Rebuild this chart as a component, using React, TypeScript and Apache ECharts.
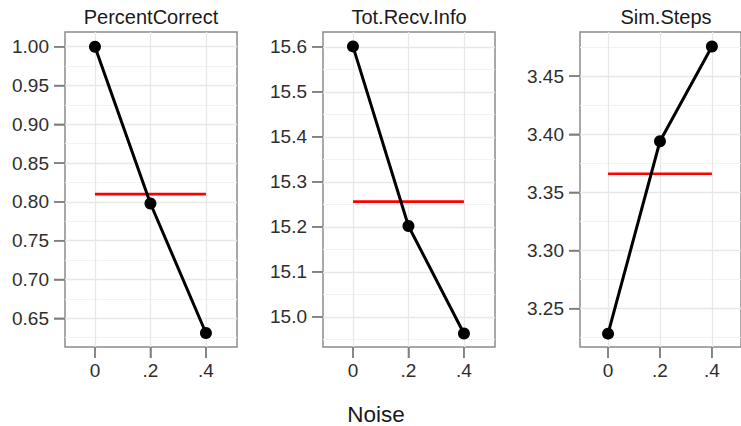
import { useEffect, useRef } from "react";
import * as echarts from "echarts";

// ---- data ----
const noise = [0, 0.2, 0.4];
const xTickLabels = ["0", ".2", ".4"];
const panelTitles = ["PercentCorrect", "Tot.Recv.Info", "Sim.Steps"];
const percentCorrect = [1.0, 0.798, 0.631];
const totRecvInfo = [15.601, 15.202, 14.963];
const simSteps = [3.2285, 3.394, 3.4755];
const meanLines = [0.81, 15.256, 3.366];

const yTicksPercent = [0.65, 0.7, 0.75, 0.8, 0.85, 0.9, 0.95, 1.0];
const yMinorPercent = [0.625, 0.675, 0.725, 0.775, 0.825, 0.875, 0.925, 0.975];
const yTicksRecv = [15.0, 15.1, 15.2, 15.3, 15.4, 15.5, 15.6];
const yMinorRecv = [14.95, 15.05, 15.15, 15.25, 15.35, 15.45, 15.55];
const yTicksSteps = [3.25, 3.3, 3.35, 3.4, 3.45];
const yMinorSteps = [3.225, 3.275, 3.325, 3.375, 3.425, 3.475];
const yDecimals = [2, 1, 2];
const xAxisTitle = "Noise";

// ---- layout ----
const yRanges = [
  [0.613, 1.019],
  [14.933, 15.633],
  [3.217, 3.488],
];
const xRange = [-0.108, 0.512];
const gridLefts = [65, 323, 580];
const gridTop = 32;
const gridWidth = 172;
const gridHeight = 315;
const TICK_LEN = 11;

const FONT = "'Liberation Sans', Arial, sans-serif";
const LABEL_COLOR = "#2e2e2e";
const GRID_COLOR = "#e8e8e8";
const FRAME_COLOR = "#8c8c8c";
const TICK_COLOR = "#7f7f7f";

export default function App() {
  const ref = useRef<HTMLDivElement>(null);

  useEffect(() => {
    if (!ref.current) return;
    const chart = echarts.init(ref.current, undefined, { renderer: "svg" });

    const values = [percentCorrect, totRecvInfo, simSteps];
    const majors = [yTicksPercent, yTicksRecv, yTicksSteps];
    const minors = [yMinorPercent, yMinorRecv, yMinorSteps];

    const grids: any[] = [];
    const xAxes: any[] = [];
    const yAxes: any[] = [];
    const series: any[] = [];
    const graphics: any[] = [];

    for (let p = 0; p < 3; p++) {
      grids.push({
        left: gridLefts[p],
        top: gridTop,
        width: gridWidth,
        height: gridHeight,
        show: true,
        borderColor: FRAME_COLOR,
        borderWidth: 1.5,
        backgroundColor: "transparent",
        containLabel: false,
      });
      xAxes.push({
        type: "value",
        gridIndex: p,
        position: "bottom",
        min: xRange[0],
        max: xRange[1],
        axisLine: { show: false, onZero: false },
        axisTick: {
          show: true,
          length: TICK_LEN,
          customValues: noise,
          lineStyle: { color: TICK_COLOR, width: 1.5 },
        },
        axisLabel: {
          customValues: noise,
          margin: 14,
          fontSize: 19,
          fontFamily: FONT,
          color: LABEL_COLOR,
          formatter: (v: number) => {
            const i = noise.findIndex((n) => Math.abs(n - v) < 1e-9);
            return i >= 0 ? xTickLabels[i] : "";
          },
        },
        splitLine: { show: true, lineStyle: { color: GRID_COLOR, width: 1.3 } },
      });
      yAxes.push({
        type: "value",
        gridIndex: p,
        position: "left",
        min: yRanges[p][0],
        max: yRanges[p][1],
        axisLine: { show: false, onZero: false },
        axisTick: {
          show: true,
          length: TICK_LEN,
          customValues: majors[p],
          lineStyle: { color: TICK_COLOR, width: 1.5 },
        },
        axisLabel: {
          customValues: majors[p],
          margin: 16,
          fontSize: 19,
          fontFamily: FONT,
          color: LABEL_COLOR,
          formatter: (v: number) => v.toFixed(yDecimals[p]),
        },
        splitLine: { show: true, lineStyle: { color: GRID_COLOR, width: 1.3 } },
      });
      yAxes.push({
        type: "value",
        gridIndex: p,
        position: "right",
        min: yRanges[p][0],
        max: yRanges[p][1],
        axisLine: { show: false, onZero: false },
        axisTick: { show: false, customValues: minors[p] },
        axisLabel: { show: false },
        splitLine: { show: true, lineStyle: { color: "#f2f2f2", width: 1 } },
      });

      series.push({
        type: "line",
        xAxisIndex: p,
        yAxisIndex: p * 2,
        data: [
          [noise[0], meanLines[p]],
          [noise[noise.length - 1], meanLines[p]],
        ],
        symbol: "none",
        lineStyle: { color: "#ff0000", width: 2.6 },
        itemStyle: { color: "#ff0000" },
        z: 2,
        silent: true,
        clip: false,
      });
      series.push({
        type: "line",
        xAxisIndex: p,
        yAxisIndex: p * 2,
        data: noise.map((x, i) => [x, values[p][i]]),
        symbol: "circle",
        symbolSize: 12,
        showSymbol: true,
        lineStyle: { color: "#000000", width: 3 },
        itemStyle: { color: "#000000" },
        z: 3,
        clip: false,
      });

      graphics.push({
        type: "text",
        x: gridLefts[p] + gridWidth / 2,
        y: 17,
        style: {
          text: panelTitles[p],
          font: `20px ${FONT}`,
          fill: "#1a1a1a",
          align: "center",
          verticalAlign: "middle",
          textAlign: "center",
          textVerticalAlign: "middle",
        },
      });
    }

    graphics.push({
      type: "text",
      x: 376,
      y: 414,
      style: {
        text: xAxisTitle,
        font: `22.5px ${FONT}`,
        fill: "#1a1a1a",
        align: "center",
        verticalAlign: "middle",
        textAlign: "center",
        textVerticalAlign: "middle",
      },
    });

    chart.setOption({
      animation: false,
      backgroundColor: "#ffffff",
      grid: grids,
      xAxis: xAxes,
      yAxis: yAxes,
      series,
    });

    // backup tick marks, positioned through the axes' own scales
    const tickGraphics: any[] = [];
    for (let p = 0; p < 3; p++) {
      const finder = { xAxisIndex: p, yAxisIndex: p * 2 };
      majors[p].forEach((v) => {
        const pt = chart.convertToPixel(finder as any, [xRange[0], v]) as number[];
        if (!pt) return;
        tickGraphics.push({
          type: "rect",
          z: 10,
          shape: { x: pt[0] - TICK_LEN, y: pt[1] - 0.75, width: TICK_LEN, height: 1.5 },
          style: { fill: TICK_COLOR },
        });
      });
      noise.forEach((x) => {
        const pt = chart.convertToPixel(finder as any, [x, yRanges[p][0]]) as number[];
        if (!pt) return;
        tickGraphics.push({
          type: "rect",
          z: 10,
          shape: { x: pt[0] - 0.75, y: pt[1], width: 1.5, height: TICK_LEN },
          style: { fill: TICK_COLOR },
        });
      });
    }

    chart.setOption({ graphic: [...graphics, ...tickGraphics] });

    return () => chart.dispose();
  }, []);

  return (
    <div
      ref={ref}
      style={{ position: "absolute", left: 0, top: 0, width: 741, height: 426 }}
    />
  );
}
